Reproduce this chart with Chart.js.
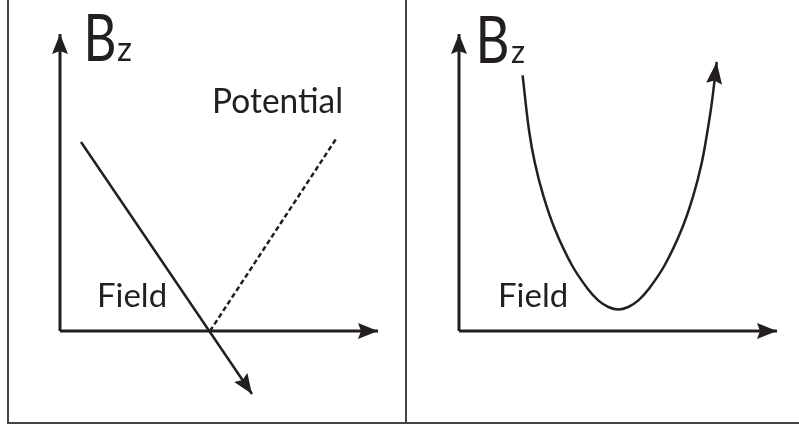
<!DOCTYPE html>
<html>
<head>
<meta charset="utf-8">
<script src="https://cdn.jsdelivr.net/npm/chart.js@4.4.0/dist/chart.umd.min.js"></script>
<style>
  html, body { margin: 0; padding: 0; background: #fff; }
  .rule { position: absolute; background: #444; }
  canvas { position: absolute; top: 0; }
</style>
</head>
<body>
<div class="rule" style="left:7px; top:0; width:2px; height:424px;"></div>
<div class="rule" style="left:7px; top:422px; width:792px; height:2px;"></div>
<div class="rule" style="left:405px; top:0; width:2px; height:424px;"></div>
<canvas id="left" width="396" height="422" style="left:9px;"></canvas>
<canvas id="right" width="392" height="422" style="left:407px;"></canvas>
<script>
// values in axis units (origin = corner of the drawn axes)
const leftAxisX = [{ x: 0, y: 0 }, { x: 10.6, y: 0 }];
const leftAxisY = [{ x: 0, y: 0 }, { x: 0, y: 9.9 }];
const fieldLinear = [{ x: 0.7, y: 6.3 }, { x: 6.4, y: -2.1 }];
const potentialLine = [{ x: 5.0, y: 0 }, { x: 9.2, y: 6.4 }];

const rightAxisX = [{ x: 0, y: 0 }, { x: 10.6, y: 0 }];
const rightAxisY = [{ x: 0, y: 0 }, { x: 0, y: 9.9 }];
const fieldCurveX = [2.12, 2.34, 2.53, 2.81, 3.2, 3.76, 4.31, 4.64, 4.98, 5.31, 5.64, 5.98, 6.31, 6.86, 7.42, 7.81, 8.09, 8.28, 8.43, 8.59];
const fieldCurveY = [8.52, 6.65, 5.6, 4.51, 3.38, 2.2, 1.38, 1.02, 0.8, 0.72, 0.8, 1.02, 1.38, 2.2, 3.38, 4.51, 5.6, 6.65, 7.63, 8.97];

const INK = '#231f20';
const UNIT = 30; // px per axis unit
const FONT = 'Lato, "Open Sans", sans-serif';

// draws a filled arrowhead at the last point of datasets marked with arrow: true
const arrowPlugin = {
  id: 'arrows',
  afterDatasetsDraw(chart) {
    const ctx = chart.ctx;
    chart.data.datasets.forEach((ds, i) => {
      if (!ds.arrow) return;
      const pts = chart.getDatasetMeta(i).data;
      const a = pts[pts.length - 2], b = pts[pts.length - 1];
      const ang = Math.atan2(b.y - a.y, b.x - a.x);
      const len = ds.arrowLen || 20, half = ds.arrowHalf || 8;
      ctx.save();
      ctx.translate(b.x, b.y);
      ctx.rotate(ang);
      ctx.fillStyle = INK;
      ctx.beginPath();
      ctx.moveTo(0, 0);
      ctx.lineTo(-len, -half);
      ctx.lineTo(-len * 0.85, 0);
      ctx.lineTo(-len, half);
      ctx.closePath();
      ctx.fill();
      ctx.restore();
    });
  }
};

const labelPlugin = {
  id: 'labels',
  afterDraw(chart, args, opts) {
    const ctx = chart.ctx;
    const xs = chart.scales.x, ys = chart.scales.y;
    ctx.save();
    ctx.fillStyle = INK;
    ctx.textBaseline = 'alphabetic';
    ctx.textAlign = 'left';
    (opts.items || []).forEach(it => {
      ctx.font = it.size + 'px ' + FONT;
      ctx.fillText(it.text, xs.getPixelForValue(it.x), ys.getPixelForValue(it.y), it.maxWidth);
    });
    ctx.restore();
  }
};

function line(data, extra) {
  return Object.assign({
    data: data,
    showLine: true,
    borderColor: INK,
    borderWidth: 2.5,
    pointRadius: 0,
    fill: false,
    clip: false
  }, extra || {});
}

function makePanel(id, originX, originY, datasets, labels) {
  const cv = document.getElementById(id);
  const W = cv.width, H = cv.height;
  return new Chart(cv, {
    type: 'scatter',
    data: { datasets: datasets },
    options: {
      responsive: false,
      animation: false,
      layout: { padding: 0 },
      scales: {
        x: { type: 'linear', display: false, min: -originX / UNIT, max: (W - originX) / UNIT },
        y: { type: 'linear', display: false, min: -(H - originY) / UNIT, max: originY / UNIT }
      },
      plugins: {
        legend: { display: false },
        tooltip: { enabled: false },
        labels: { items: labels }
      }
    },
    plugins: [arrowPlugin, labelPlugin]
  });
}

makePanel('left', 51, 331, [
  line(leftAxisX, { borderWidth: 3, arrow: true }),
  line(leftAxisY, { borderWidth: 3, arrow: true }),
  line(potentialLine, { borderDash: [5, 3] }),
  line(fieldLinear, { arrow: true })
], [
  { text: 'B', x: 0.78, y: 9.0, size: 66, maxWidth: 33 },
  { text: 'z', x: 1.9, y: 9.0, size: 34, maxWidth: 15 },
  { text: 'Potential', x: 5.07, y: 7.27, size: 34, maxWidth: 131 },
  { text: 'Field', x: 1.23, y: 0.8, size: 33, maxWidth: 71 }
]);

makePanel('right', 52, 331, [
  line(rightAxisX, { borderWidth: 3, arrow: true }),
  line(rightAxisY, { borderWidth: 3, arrow: true }),
  line(fieldCurveX.map((x, i) => ({ x: x, y: fieldCurveY[i] })), {
    tension: 0.4, arrow: true, arrowLen: 22
  })
], [
  { text: 'B', x: 0.55, y: 8.93, size: 66, maxWidth: 34 },
  { text: 'z', x: 1.73, y: 8.93, size: 32, maxWidth: 14 },
  { text: 'Field', x: 1.3, y: 0.8, size: 33, maxWidth: 71 }
]);
</script>
</body>
</html>
